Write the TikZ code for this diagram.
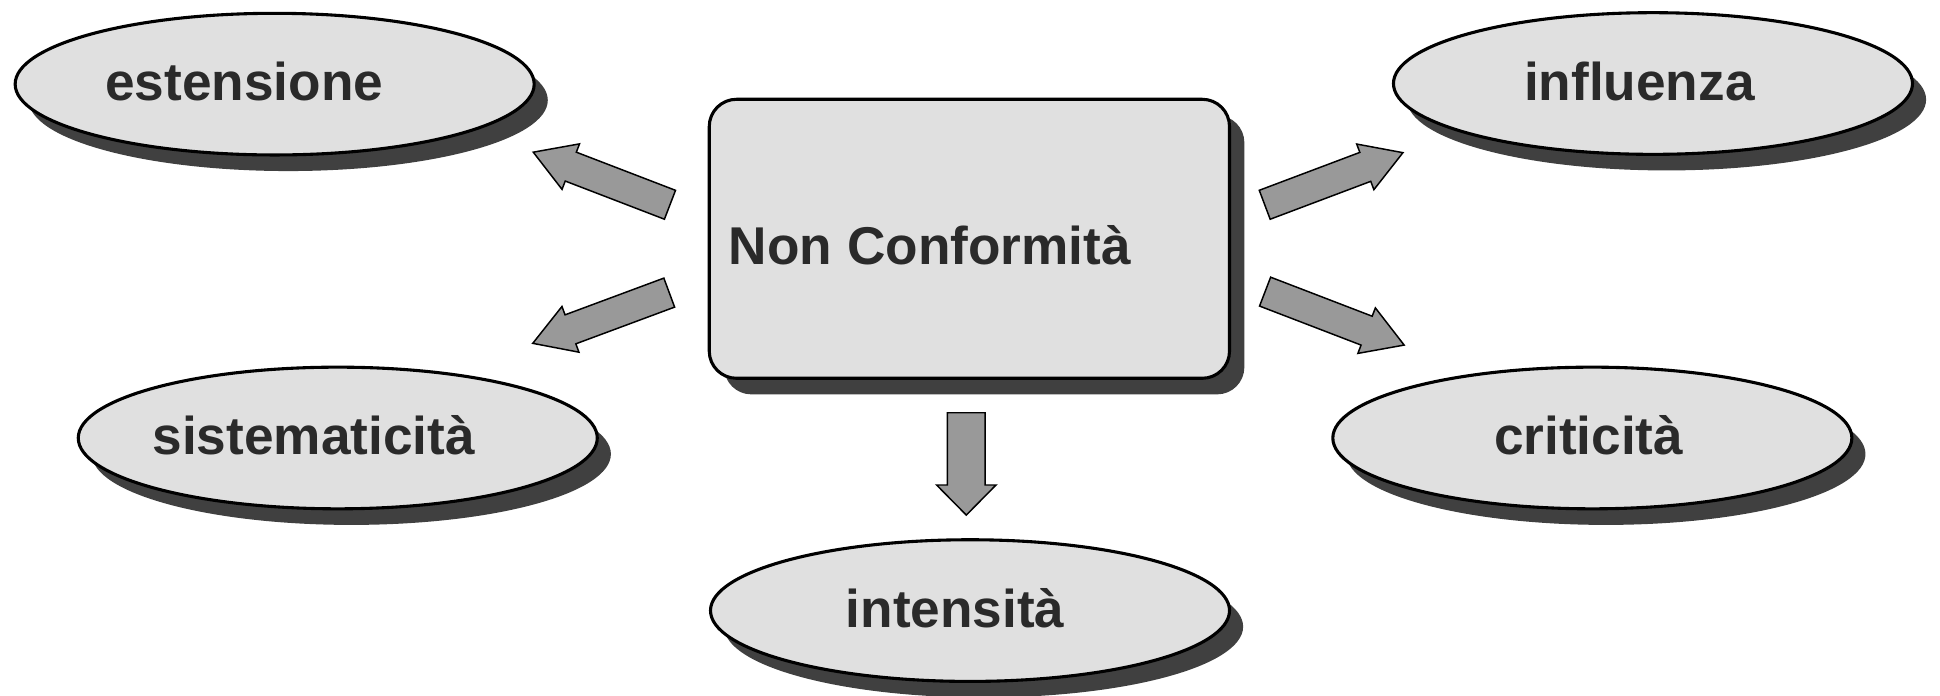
\documentclass[tikz,border=0pt]{standalone}
\usepackage{fontspec}
\setmainfont{Liberation Sans}
\usetikzlibrary{shapes.geometric,shadows,calc}
\definecolor{shapefill}{HTML}{E0E0E0}
\definecolor{shadowc}{HTML}{404040}
\definecolor{arrowfill}{HTML}{999999}
\definecolor{txt}{HTML}{2A2A2A}
% #1 tail, #2 tip, #3 shaft half width, #4 head half width, #5 head length
\newcommand\blockarrow[5]{%
  \coordinate (hb) at ($(#2)!#5!(#1)$);
  \draw[barrow] ($(#1)!#3!90:(#2)$) -- ($(hb)!#3!90:(#2)$) -- ($(hb)!#4!90:(#2)$)
    -- (#2) -- ($(hb)!#4!-90:(#2)$) -- ($(hb)!#3!-90:(#2)$) -- ($(#1)!#3!-90:(#2)$) -- cycle;
}
\begin{document}
\begin{tikzpicture}[x=1pt,y=-1pt,
  ellnode/.style={ellipse, draw=black, line width=2.5pt, fill=shapefill,
    minimum width=419.5pt, minimum height=114.5pt, inner sep=0pt,
    drop shadow={shadow xshift=11pt, shadow yshift=-13pt, fill=shadowc, opacity=1}},
  boxnode/.style={rectangle, rounded corners=22pt, draw=black, line width=2.5pt, fill=shapefill,
    minimum width=420.5pt, minimum height=225.5pt, inner sep=0pt,
    drop shadow={shadow xshift=12pt, shadow yshift=-13pt, fill=shadowc, opacity=1}},
  lbl/.style={font=\fontsize{43}{50}\selectfont\bfseries, text=txt, inner sep=0pt},
  barrow/.style={fill=arrowfill, draw=black, line width=1.2pt, line join=miter}]
\useasboundingbox (0,0) rectangle (1568,562);
\fill[white] (0,0) rectangle (1568,562);

% shapes
\node[boxnode] (nc) at (783.5,193) {};
\node[ellnode] (est) at (222,68) {};
\node[ellnode] (inf) at (1336,67.5) {};
\node[ellnode] (sis) at (273,354) {};
\node[ellnode] (cri) at (1287,354) {};
\node[ellnode] (int) at (784,493.5) {};

% labels
\node[lbl, anchor=base west] (ncL) at (589,214) {Non Conformità};
\node[lbl, anchor=base] (estL) at (197.5,81) {estensione};
\node[lbl, anchor=base] (infL) at (1325,81) {influenza};
\node[lbl, anchor=base] (sisL) at (253.5,367) {sistematicità};
\node[lbl, anchor=base] (criL) at (1284,367) {criticità};
\node[lbl, anchor=base] (intL) at (772,507) {intensità};

% arrow end points
\coordinate (a1t) at (541.5,165.5);  \coordinate (a1h) at (431,123);
\coordinate (a2t) at (540.9,236.5);  \coordinate (a2h) at (430.6,277.5);
\coordinate (a3t) at (1022.2,165.5); \coordinate (a3h) at (1133.9,123.4);
\coordinate (a4t) at (1022.5,235.7); \coordinate (a4h) at (1134.9,278.9);
\coordinate (a5t) at (781,333.6);    \coordinate (a5h) at (781,416.3);

\blockarrow{a1t}{a1h}{12.5pt}{19.7pt}{32.5pt}
\blockarrow{a2t}{a2h}{12.5pt}{19.7pt}{32.5pt}
\blockarrow{a3t}{a3h}{12.5pt}{19.7pt}{32.5pt}
\blockarrow{a4t}{a4h}{12.5pt}{19.7pt}{32.5pt}
\blockarrow{a5t}{a5h}{15.25pt}{24pt}{24.3pt}
\end{tikzpicture}
\end{document}
